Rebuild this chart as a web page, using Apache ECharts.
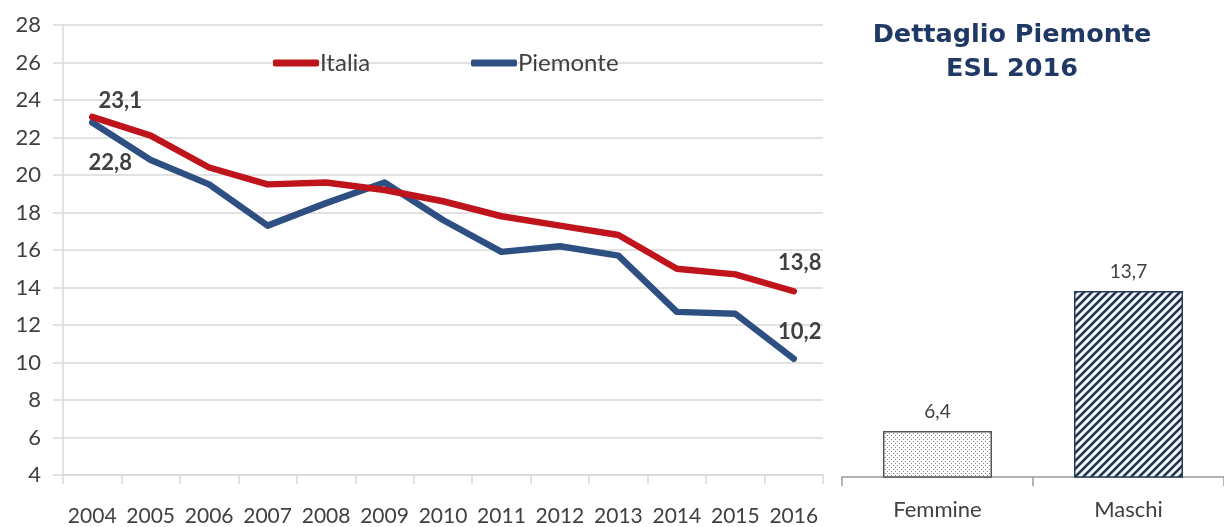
<!DOCTYPE html>
<html>
<head>
<meta charset="utf-8">
<script src="https://cdn.jsdelivr.net/npm/echarts@6/dist/echarts.min.js"></script>
<style>
  html, body { margin: 0; padding: 0; background: #fff; }
  #chart { width: 1224px; height: 527px; }
</style>
</head>
<body>
<div id="chart"></div>
<script>
// dati
const years = ['2004', '2005', '2006', '2007', '2008', '2009', '2010', '2011', '2012', '2013', '2014', '2015', '2016'];
const italia = [23.1, 22.1, 20.4, 19.5, 19.6, 19.2, 18.6, 17.8, 17.3, 16.8, 15.0, 14.7, 13.8];
const piemonte = [22.8, 20.8, 19.5, 17.3, 18.5, 19.6, 17.6, 15.9, 16.2, 15.7, 12.7, 12.6, 10.2];
const yTicks = [4, 6, 8, 10, 12, 14, 16, 18, 20, 22, 24, 26, 28];
const sessi = ['Femmine', 'Maschi'];
const esl2016 = [6.4, 13.7];

const fontMain = 'Lato, "Open Sans", sans-serif';
const grey = '#404040';
const gridGrey = '#d9d9d9';

// pattern per le barre
function dotPattern() {
  const c = document.createElement('canvas');
  c.width = 4; c.height = 4;
  const ctx = c.getContext('2d');
  ctx.fillStyle = '#ffffff';
  ctx.fillRect(0, 0, 4, 4);
  ctx.fillStyle = '#8a8a8a';
  ctx.fillRect(1, 1, 1, 1);
  ctx.fillRect(3, 3, 1, 1);
  return c;
}
function stripePattern() {
  const c = document.createElement('canvas');
  c.width = 8; c.height = 8;
  const ctx = c.getContext('2d');
  ctx.fillStyle = '#f2f7fb';
  ctx.fillRect(0, 0, 8, 8);
  ctx.strokeStyle = '#1f3350';
  ctx.lineWidth = 2.6;
  ctx.beginPath();
  ctx.moveTo(-2, 10); ctx.lineTo(10, -2);
  ctx.moveTo(-6, 6); ctx.lineTo(6, -6);
  ctx.moveTo(2, 14); ctx.lineTo(14, 2);
  ctx.stroke();
  return c;
}

const comma = v => String(v.toFixed(1)).replace('.', ',');

// etichette solo su primo e ultimo punto
function lineData(values, firstOffset, lastOffset) {
  return values.map((v, i) => {
    if (i === 0 || i === values.length - 1) {
      return {
        value: v,
        label: {
          show: true,
          position: 'inside',
          offset: i === 0 ? firstOffset : lastOffset,
          formatter: p => comma(p.value),
          color: grey,
          fontFamily: fontMain,
          fontWeight: 'bold',
          fontSize: 22
        }
      };
    }
    return v;
  });
}

const myChart = echarts.init(document.getElementById('chart'), null, { renderer: 'canvas' });

const legendText = { color: grey, fontFamily: fontMain, fontSize: 24, padding: [0, 0, 0, -4] };

myChart.setOption({
  animation: false,
  title: {
    text: 'Dettaglio Piemonte\nESL 2016',
    left: 1007,
    top: 13,
    textAlign: 'center',
    textStyle: {
      color: '#203864',
      fontFamily: '"DejaVu Sans", sans-serif',
      fontWeight: 'bold',
      fontSize: 25.5,
      lineHeight: 34
    }
  },
  legend: [
    {
      data: ['Italia'],
      left: 268,
      top: 46,
      icon: 'roundRect',
      itemWidth: 46,
      itemHeight: 7,
      textStyle: legendText
    },
    {
      data: ['Piemonte'],
      left: 466,
      top: 46,
      icon: 'roundRect',
      itemWidth: 46,
      itemHeight: 7,
      textStyle: legendText
    }
  ],
  grid: [
    { left: 63, right: 401, top: 25, bottom: 51 },
    { left: 842, right: -6, top: 17, bottom: 50 }
  ],
  xAxis: [
    {
      type: 'category',
      gridIndex: 0,
      data: years,
      boundaryGap: true,
      axisLine: { lineStyle: { color: gridGrey, width: 1.5 } },
      axisTick: { show: true, length: 9, lineStyle: { color: gridGrey, width: 1.5 } },
      axisLabel: { color: grey, fontFamily: fontMain, fontSize: 21, margin: 31, interval: 0 }
    },
    {
      type: 'category',
      gridIndex: 1,
      data: sessi,
      boundaryGap: true,
      axisLine: { lineStyle: { color: '#9a9a9a', width: 1.5 } },
      axisTick: { show: true, length: 9, lineStyle: { color: '#9a9a9a', width: 1.5 } },
      axisLabel: { color: grey, fontFamily: fontMain, fontSize: 22, margin: 22 }
    }
  ],
  yAxis: [
    {
      type: 'value',
      gridIndex: 0,
      min: yTicks[0],
      max: yTicks[yTicks.length - 1],
      interval: 2,
      axisLine: { show: true, lineStyle: { color: gridGrey, width: 1.5 } },
      axisTick: { show: true, length: 10, lineStyle: { color: gridGrey, width: 1.5 } },
      splitLine: { lineStyle: { color: gridGrey, width: 1.5 } },
      axisLabel: { color: grey, fontFamily: fontMain, fontSize: 22, margin: 22 }
    },
    {
      type: 'value',
      gridIndex: 1,
      min: 4,
      max: 28,
      show: false
    }
  ],
  series: [
    {
      name: 'Italia',
      type: 'line',
      xAxisIndex: 0,
      yAxisIndex: 0,
      data: lineData(italia, [28, -16], [6, -28]),
      color: '#c0141c',
      lineStyle: { width: 6.5, cap: 'round', join: 'round' },
      symbol: 'circle',
      symbolSize: 0.01,
      showSymbol: true,
      z: 3
    },
    {
      name: 'Piemonte',
      type: 'line',
      xAxisIndex: 0,
      yAxisIndex: 0,
      data: lineData(piemonte, [18, 40], [6, -27]),
      color: '#2e4f82',
      lineStyle: { width: 6.5, cap: 'round', join: 'round' },
      symbol: 'circle',
      symbolSize: 0.01,
      showSymbol: true,
      z: 2
    },
    {
      name: 'ESL 2016',
      type: 'bar',
      xAxisIndex: 1,
      yAxisIndex: 1,
      barWidth: 109,
      data: esl2016.map((v, i) => ({
        value: v,
        itemStyle: i === 0
          ? { color: { image: dotPattern(), repeat: 'repeat' }, borderColor: '#555555', borderWidth: 1.5 }
          : { color: { image: stripePattern(), repeat: 'repeat' }, borderColor: '#2a3a55', borderWidth: 1.5 }
      })),
      label: {
        show: true,
        position: 'top',
        distance: 10,
        formatter: p => comma(p.value),
        color: grey,
        fontFamily: fontMain,
        fontSize: 19
      }
    }
  ]
});
</script>
</body>
</html>
